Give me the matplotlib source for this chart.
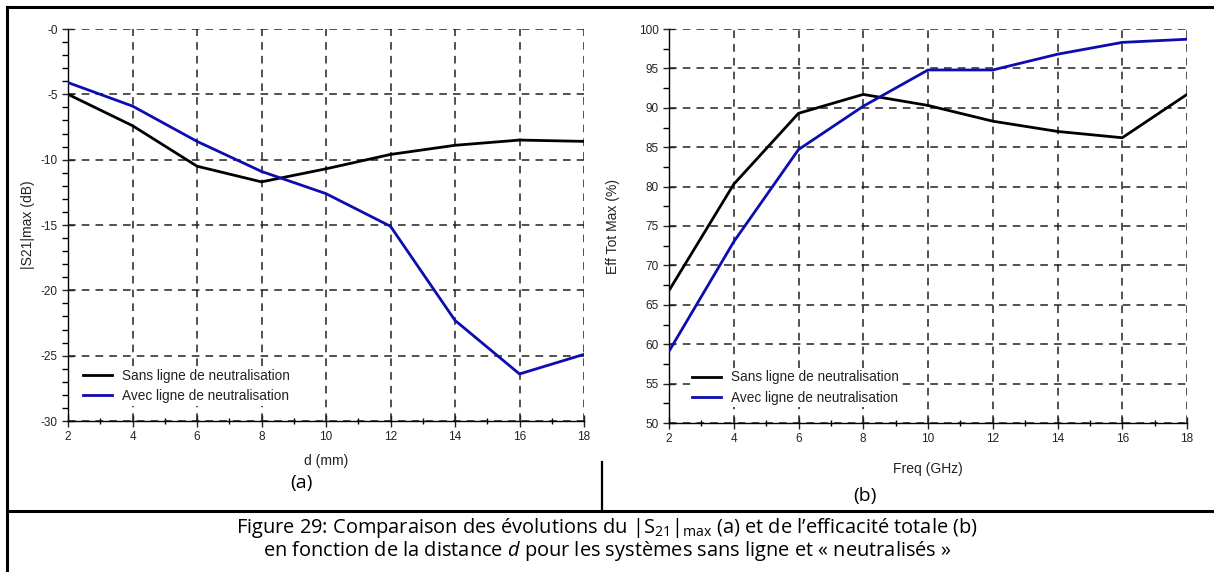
import matplotlib
matplotlib.use("Agg")
import matplotlib.pyplot as plt
from matplotlib.lines import Line2D
from matplotlib.ticker import MultipleLocator

# --- data ---
d_mm = [2, 4, 6, 8, 10, 12, 14, 16, 18]
s21_sans = [-5.0, -7.4, -10.5, -11.7, -10.7, -9.6, -8.9, -8.5, -8.6]
s21_avec = [-4.1, -5.9, -8.6, -10.9, -12.6, -15.1, -22.3, -26.4, -24.9]
s21_ticks = [0, -5, -10, -15, -20, -25, -30]
s21_ticklabels = ["-0", "-5", "-10", "-15", "-20", "-25", "-30"]

freq_ghz = [2, 4, 6, 8, 10, 12, 14, 16, 18]
eff_sans = [66.8, 80.3, 89.3, 91.7, 90.3, 88.3, 87.0, 86.2, 91.7]
eff_avec = [59.1, 73.0, 84.7, 90.2, 94.8, 94.8, 96.8, 98.3, 98.7]
eff_ticks = [50, 55, 60, 65, 70, 75, 80, 85, 90, 95, 100]

labels = ["Sans ligne de neutralisation", "Avec ligne de neutralisation"]
BLACK = "#000000"
BLUE = "#0c0cb0"

W, H = 1214, 572
CHART_FONT = "Liberation Sans"
DOC_FONT = "Open Sans"

plt.rcParams["font.family"] = CHART_FONT
plt.rcParams["mathtext.fontset"] = "custom"
plt.rcParams["mathtext.rm"] = DOC_FONT
plt.rcParams["mathtext.it"] = DOC_FONT + ":italic"

fig = plt.figure(figsize=(W / 100, H / 100), dpi=100)


def px_axes(x0, y0, x1, y1):
    # pixel box (top-left origin) -> axes
    return fig.add_axes([x0 / W, 1 - y1 / H, (x1 - x0) / W, (y1 - y0) / H])


def style(ax, xlabel, ylabel, ylab_x):
    for side in ("top", "right"):
        ax.spines[side].set_visible(False)
    for side in ("left", "bottom"):
        ax.spines[side].set_linewidth(1.0)
    ax.set_xlim(2, 18)
    ax.xaxis.set_major_locator(MultipleLocator(2))
    ax.xaxis.set_minor_locator(MultipleLocator(1))
    ax.tick_params(which="major", direction="inout", length=9, width=1,
                   labelsize=8.5, colors="#222222", pad=3)
    ax.tick_params(which="minor", direction="out", length=4, width=1)
    ax.tick_params(axis="x", which="minor", direction="inout", length=4)
    ax.grid(True, which="major", color="#222222", linestyle=(0, (5, 4)),
            linewidth=1.1)
    ax.set_axisbelow(True)
    ax.set_xlabel(xlabel, fontsize=10, color="#222222")
    ax.set_ylabel(ylabel, fontsize=10, color="#222222")
    ax.yaxis.set_label_coords(ylab_x, 0.5)
    ax.xaxis.set_label_coords(0.5, -0.085)


def legend(ax, x, y):
    leg = ax.legend(labels, loc="center left", bbox_to_anchor=(x, y),
                    fontsize=9.8, handlelength=2.1, handletextpad=0.75,
                    labelspacing=0.45, borderpad=0.2, borderaxespad=0,
                    frameon=True, framealpha=1, facecolor="white",
                    edgecolor="none", fancybox=False)
    leg.set_zorder(5)
    for t in leg.get_texts():
        t.set_color("#222222")


# (a) |S21|max vs d
ax1 = px_axes(68, 29, 584, 421)
ax1.plot(d_mm, s21_sans, color=BLACK, linewidth=2, zorder=3)
ax1.plot(d_mm, s21_avec, color=BLUE, linewidth=2, zorder=3)
ax1.set_ylim(-30, 0)
ax1.set_yticks(s21_ticks, s21_ticklabels)
ax1.yaxis.set_minor_locator(MultipleLocator(1))
style(ax1, "d (mm)", "|S21|max (dB)", -0.063)
legend(ax1, 0.024, 0.09)

# (b) efficiency vs freq
ax2 = px_axes(669, 29, 1187, 423)
ax2.plot(freq_ghz, eff_sans, color=BLACK, linewidth=2, zorder=3)
ax2.plot(freq_ghz, eff_avec, color=BLUE, linewidth=2, zorder=3)
ax2.set_ylim(50, 100)
ax2.set_yticks(eff_ticks)
ax2.yaxis.set_minor_locator(MultipleLocator(2.5))
style(ax2, "Freq (GHz)", "Eff Tot Max (%)", -0.0955)
ax2.xaxis.set_label_coords(0.5, -0.1)
legend(ax2, 0.040, 0.09)

# table borders of the document
def hline(y, x0, x1, lw=2.2):
    fig.add_artist(Line2D([x0 / W, x1 / W], [1 - y / H, 1 - y / H],
                          color="black", linewidth=lw))


def vline(x, y0, y1, lw=2.2):
    fig.add_artist(Line2D([x / W, x / W], [1 - y0 / H, 1 - y1 / H],
                          color="black", linewidth=lw))


hline(7, 7, W)
hline(511, 7, W)
vline(7, 7, H)
vline(602, 462, 511, lw=1.6)

# sub-figure labels and caption
fig.text(301 / W, 1 - 483 / H, "(a)", family=DOC_FONT, fontsize=14,
         ha="center", va="center")
fig.text(865 / W, 1 - 496 / H, "(b)", family=DOC_FONT, fontsize=14,
         ha="center", va="center")
fig.text(607 / W, 1 - 528 / H,
         "Figure 29: Comparaison des évolutions du"
         r"$\ |\mathrm{S}_{\mathrm{21}}|_{\mathrm{max}}$"
         " (a) et de l’efficacité totale (b)",
         family=DOC_FONT, fontsize=14.4, ha="center", va="center")
fig.text(607 / W, 1 - 551 / H,
         r"en fonction de la distance $d$ pour les systèmes sans ligne et « neutralisés »",
         family=DOC_FONT, fontsize=14.4, ha="center", va="center")

fig.savefig("out.png", dpi=100)
